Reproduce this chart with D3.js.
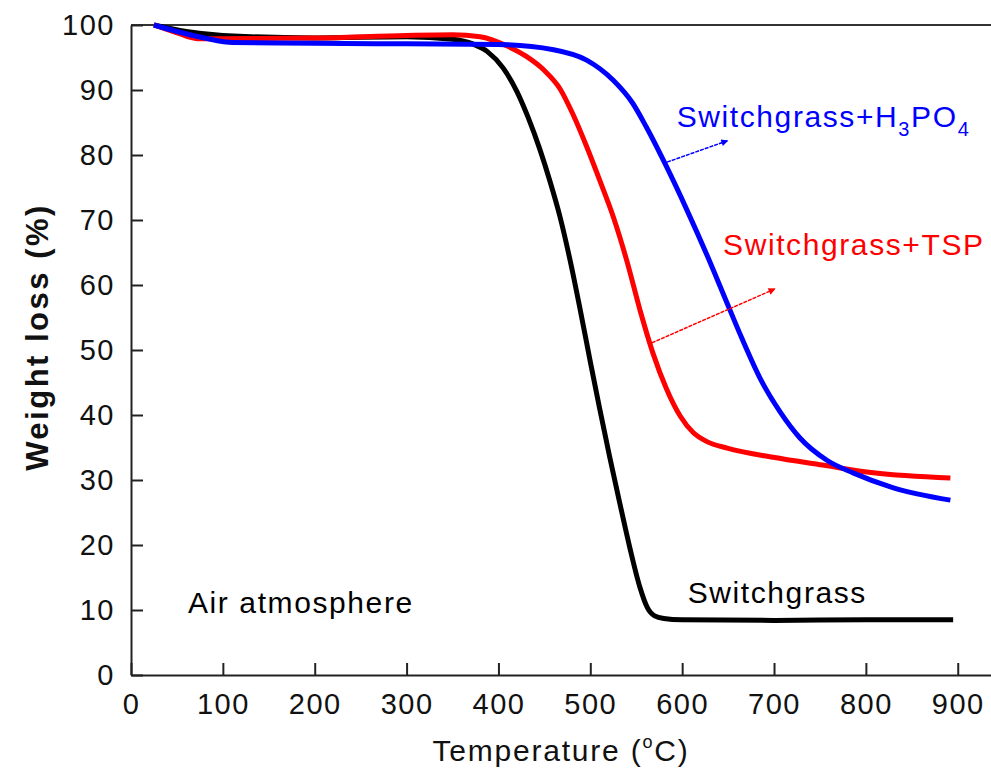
<!DOCTYPE html>
<html>
<head>
<meta charset="utf-8">
<title>TGA curves</title>
<script src="https://d3js.org/d3.v7.min.js"></script>
<style>
  body { margin: 0; background: #fff; }
  svg text { font-family: "Liberation Sans", Arial, sans-serif; }
</style>
</head>
<body>
<div id="chart"></div>
<script>
// temperature (°C) and weight (%)
var sgTemp   = [25, 60, 100, 200, 300, 350, 372, 388, 405, 420, 432, 445, 456, 467, 478, 489, 500, 510, 521, 532, 543, 554, 562, 570, 580, 600, 700, 800, 895];
var sgWeight = [100, 99, 98.4, 98, 98.2, 97.8, 97.1, 95.9, 93.4, 89.8, 85.9, 80.9, 76, 70.5, 63.8, 56.2, 48.2, 41.1, 33.6, 26.5, 19.6, 13.5, 10.4, 9.1, 8.7, 8.5, 8.4, 8.5, 8.5];

var tspTemp   = [25, 50, 72, 100, 200, 300, 350, 380, 409, 430, 450, 467, 481, 496, 510, 525, 540, 554, 568, 583, 598, 612, 627, 649, 699, 753, 808, 892];
var tspWeight = [100, 98.8, 97.9, 97.9, 98, 98.4, 98.5, 98.2, 96.8, 95.2, 93, 90.2, 86.3, 81.3, 76.2, 70.5, 63.6, 56.2, 49.6, 44, 39.8, 37.3, 35.9, 34.9, 33.5, 32.3, 31.1, 30.3];

var h3Temp   = [25, 50, 80, 111, 200, 300, 400, 460, 496, 525, 546, 561, 583, 605, 627, 646, 665, 685, 707, 728, 758, 786, 830, 892];
var h3Weight = [100, 99, 98, 97.3, 97.2, 97.1, 97, 96.2, 94.6, 91.5, 88, 84.3, 78.2, 71.6, 64.6, 58.2, 51.8, 45.6, 40.4, 36.5, 33, 31.1, 28.8, 26.9];

var xTicks = [0, 100, 200, 300, 400, 500, 600, 700, 800, 900];
var yTicks = [0, 10, 20, 30, 40, 50, 60, 70, 80, 90, 100];

var width = 991, height = 772;
var x = d3.scaleLinear().domain([0, 1000]).range([131, 1049.6]);
var y = d3.scaleLinear().domain([0, 100]).range([675, 25]);

var svg = d3.select("#chart").append("svg")
  .attr("width", width)
  .attr("height", height);

// top frame line
svg.append("line")
  .attr("x1", x(0)).attr("x2", x(1000))
  .attr("y1", y(100)).attr("y2", y(100))
  .attr("stroke", "#333").attr("stroke-width", 2);

var xAxis = svg.append("g")
  .attr("transform", "translate(0," + y(0) + ")")
  .call(d3.axisBottom(x).tickValues(xTicks).tickSizeInner(-12).tickSizeOuter(0).tickPadding(18));

var yAxis = svg.append("g")
  .attr("transform", "translate(" + x(0) + ",0)")
  .call(d3.axisLeft(y).tickValues(yTicks).tickSizeInner(-12).tickSizeOuter(0).tickPadding(16));

[xAxis, yAxis].forEach(function(g) {
  g.select(".domain").attr("stroke", "#222").attr("stroke-width", 2);
  g.selectAll(".tick line").attr("stroke", "#222").attr("stroke-width", 2);
  g.selectAll(".tick text")
    .attr("fill", "#111")
    .style("font-size", "29px")
    .style("letter-spacing", "1.5px")
    .style("font-family", "'Liberation Sans', Arial, sans-serif");
});

var line = d3.line()
  .x(function(d) { return x(d[0]); })
  .y(function(d) { return y(d[1]); })
  .curve(d3.curveMonotoneX);

function drawCurve(temps, weights, color) {
  svg.append("path")
    .datum(d3.zip(temps, weights))
    .attr("d", line)
    .attr("fill", "none")
    .attr("stroke", color)
    .attr("stroke-width", 5)
    .attr("stroke-linejoin", "round");
}

drawCurve(sgTemp, sgWeight, "#000");
drawCurve(tspTemp, tspWeight, "#ff0000");
drawCurve(h3Temp, h3Weight, "#0000ff");

// arrowheads
var defs = svg.append("defs");
[["arrBlue", "#0000ff"], ["arrRed", "#ff0000"]].forEach(function(a) {
  defs.append("marker")
    .attr("id", a[0])
    .attr("viewBox", "0 0 10 10")
    .attr("refX", 9).attr("refY", 5)
    .attr("markerWidth", 10).attr("markerHeight", 7)
    .attr("markerUnits", "userSpaceOnUse")
    .attr("orient", "auto")
    .append("path")
    .attr("d", "M0,0 L10,5 L0,10 z")
    .attr("fill", a[1]);
});

svg.append("line")
  .attr("x1", x(583.5)).attr("y1", y(78.9))
  .attr("x2", x(649.5)).attr("y2", y(82.2))
  .attr("stroke", "#0000ff").attr("stroke-width", 1.5)
  .attr("stroke-dasharray", "4,1")
  .attr("marker-end", "url(#arrBlue)");

svg.append("line")
  .attr("x1", x(567)).attr("y1", y(51.1))
  .attr("x2", x(701)).attr("y2", y(59.4))
  .attr("stroke", "#ff0000").attr("stroke-width", 1.5)
  .attr("stroke-dasharray", "4,1")
  .attr("marker-end", "url(#arrRed)");

// labels
function label(t) {
  return t.style("font-size", "30px").style("letter-spacing", "1.6px");
}

var h3 = label(svg.append("text")
  .attr("x", x(594)).attr("y", y(84.3))
  .attr("fill", "#0000ff"));
h3.append("tspan").text("Switchgrass+H");
h3.append("tspan").text("3").style("font-size", "20px").attr("dy", 9);
h3.append("tspan").text("PO").attr("dy", -9);
h3.append("tspan").text("4").style("font-size", "20px").attr("dy", 9);

label(svg.append("text")
  .attr("x", x(644.5)).attr("y", y(64.6))
  .attr("fill", "#ff0000"))
  .text("Switchgrass+TSP");

label(svg.append("text")
  .attr("x", x(606)).attr("y", y(11.1))
  .attr("fill", "#000"))
  .text("Switchgrass");

label(svg.append("text")
  .attr("x", x(62)).attr("y", y(9.5))
  .attr("fill", "#000"))
  .text("Air atmosphere");

// axis titles
var xt = svg.append("text")
  .attr("x", 561).attr("y", 761)
  .attr("text-anchor", "middle")
  .attr("fill", "#111")
  .style("font-size", "30px").style("letter-spacing", "1.8px");
xt.append("tspan").text("Temperature (");
xt.append("tspan").text("o").style("font-size", "18px").attr("dy", -13);
xt.append("tspan").text("C)").attr("dy", 13);

svg.append("text")
  .attr("transform", "translate(48,337) rotate(-90)")
  .attr("text-anchor", "middle")
  .attr("fill", "#111")
  .style("font-size", "31px").style("font-weight", "bold").style("letter-spacing", "2.5px")
  .text("Weight loss (%)");
</script>
</body>
</html>
